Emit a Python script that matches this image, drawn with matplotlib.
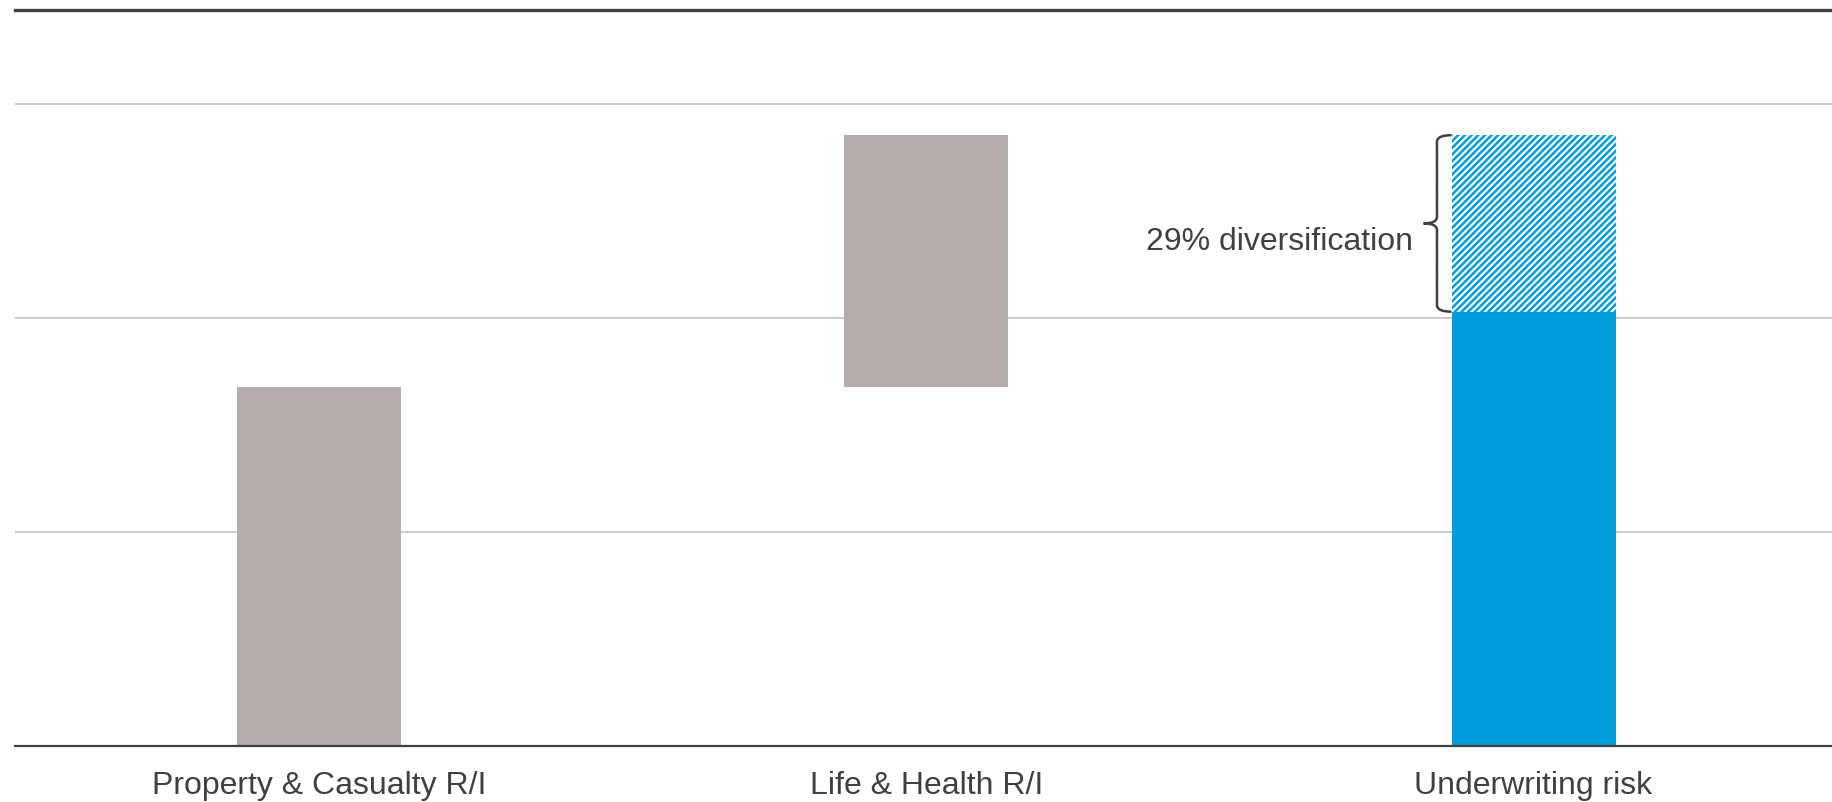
import numpy as np
import matplotlib
matplotlib.use("Agg")
import matplotlib.pyplot as plt
from matplotlib.path import Path
from matplotlib.patches import PathPatch

plt.rcParams['font.family'] = ['Liberation Sans', 'DejaVu Sans']
plt.rcParams['hatch.linewidth'] = 1.8

# chart values (arbitrary units)
categories = ['Property & Casualty R/I', 'Life & Health R/I', 'Underwriting risk']
pc_risk = 1.68
lh_risk = 1.175
uw_risk = 2.03
diversification_label = '29% diversification'

grey = '#b3aead'
blue = '#009ddc'
dark = '#404040'

fig = plt.figure(figsize=(18.33, 8.02), dpi=100)
ax = fig.add_axes([0.0082, 0.0698, 0.9918, 0.9177])

x = np.arange(len(categories))
width = 0.27
total = pc_risk + lh_risk

# waterfall: P&C, then L&H stacked on top, then the diversified total
ax.bar(x[0], pc_risk, width, color=grey, zorder=3)
ax.bar(x[1], lh_risk, width, bottom=pc_risk, color=grey, zorder=3)
ax.bar(x[2], uw_risk, width, color=blue, zorder=3)
ax.bar(x[2], total - uw_risk, width, bottom=uw_risk, facecolor='white',
       edgecolor=blue, linewidth=0, hatch='/////', zorder=3)

# curly brace next to the diversification part
x_end = x[2] - width / 2
xv = x_end - 0.024
x_tip = xv - 0.022
ry = 0.03
mid = (uw_risk + total) / 2
verts = [
    (x_end, total), (xv, total), (xv, total - ry),
    (xv, mid + ry),
    (xv, mid), (x_tip, mid),
    (xv, mid), (xv, mid - ry),
    (xv, uw_risk + ry),
    (xv, uw_risk), (x_end, uw_risk),
]
codes = [Path.MOVETO, Path.CURVE3, Path.CURVE3, Path.LINETO,
         Path.CURVE3, Path.CURVE3, Path.CURVE3, Path.CURVE3,
         Path.LINETO, Path.CURVE3, Path.CURVE3]
ax.add_patch(PathPatch(Path(verts, codes), fill=False, edgecolor=dark,
                       linewidth=1.8, zorder=4, capstyle='butt'))
ax.text(x_tip - 0.017, mid - 0.085, diversification_label, ha='right', va='center',
        fontsize=23, color=dark)

ax.set_xlim(-0.5, 2.493)
ax.set_ylim(0, 3.44)
ax.set_yticks([1, 2, 3])
ax.yaxis.grid(True, color='#c9c5c5', linewidth=1.3, zorder=0)
ax.set_axisbelow(True)
ax.tick_params(axis='y', left=False, labelleft=False)
ax.set_xticks(x)
ax.set_xticklabels(categories, fontsize=23, color=dark)
ax.tick_params(axis='x', length=0, pad=18)

for side in ['left', 'right']:
    ax.spines[side].set_visible(False)
ax.spines['bottom'].set_color(dark)
ax.spines['bottom'].set_linewidth(1.6)
ax.spines['bottom'].set_zorder(5)
ax.spines['top'].set_color(dark)
ax.spines['top'].set_linewidth(2.4)

fig.savefig('out.png', dpi=100)
